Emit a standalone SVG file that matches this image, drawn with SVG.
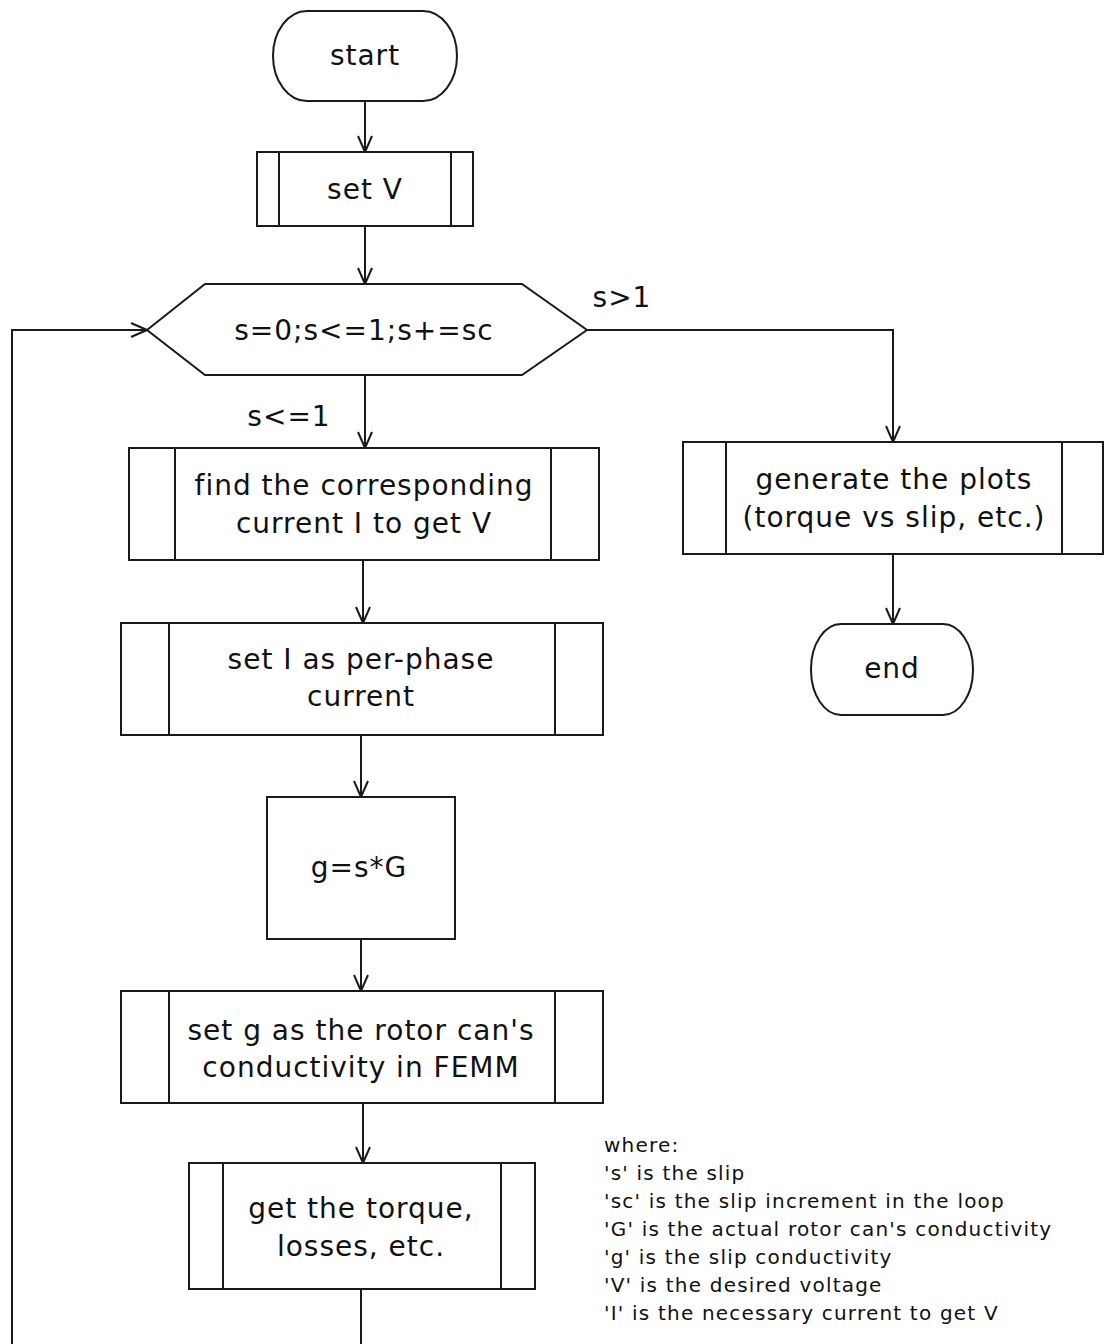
<svg xmlns="http://www.w3.org/2000/svg" width="1104" height="1344" viewBox="0 0 1104 1344">
<style>
.s{fill:#fff;stroke:#1a1a1a;stroke-width:2}
.l{fill:none;stroke:#1a1a1a;stroke-width:2}
.t{font-family:"DejaVu Sans",sans-serif;font-size:28px;letter-spacing:1px;fill:#111;text-anchor:middle}
.n{font-family:"DejaVu Sans",sans-serif;font-size:20px;letter-spacing:1.2px;fill:#111}
</style>
<defs>
<marker id="a" viewBox="0 0 18 16" refX="17" refY="8" markerWidth="18" markerHeight="16" markerUnits="userSpaceOnUse" orient="auto">
<path d="M1,1 L17,8 L1,15" fill="none" stroke="#1a1a1a" stroke-width="2"/>
</marker>
</defs>
<rect width="1104" height="1344" fill="#fff"/>
<g id="connectors">
<path class="l" d="M365,101 V152" marker-end="url(#a)"/>
<path class="l" d="M365,226 V284" marker-end="url(#a)"/>
<path class="l" d="M365,375 V448" marker-end="url(#a)"/>
<path class="l" d="M587,330 H893 V442" marker-end="url(#a)"/>
<path class="l" d="M363,560 V623" marker-end="url(#a)"/>
<path class="l" d="M361,735 V797" marker-end="url(#a)"/>
<path class="l" d="M361,939 V991" marker-end="url(#a)"/>
<path class="l" d="M363,1103 V1163" marker-end="url(#a)"/>
<path class="l" d="M893,554 V624" marker-end="url(#a)"/>
<path class="l" d="M361,1289 V1344"/>
<path class="l" d="M12,1344 V330 H147" marker-end="url(#a)"/>
<text class="t" x="622" y="307">s&gt;1</text>
<text class="t" x="289" y="426">s&lt;=1</text>
</g>
<g id="start">
<rect class="s" x="273" y="11" width="184" height="90" rx="34" ry="45"/>
<text class="t" x="365" y="65">start</text>
</g>
<g id="setV">
<rect class="s" x="257" y="152" width="216" height="74"/>
<path class="l" d="M279,152 V226 M451,152 V226"/>
<text class="t" x="365" y="199">set V</text>
</g>
<g id="loop">
<polygon class="s" points="147,330 205,284 522,284 587,330 522,375 205,375"/>
<text class="t" x="364" y="340">s=0;s&lt;=1;s+=sc</text>
</g>
<g id="find">
<rect class="s" x="129" y="448" width="470" height="112"/>
<path class="l" d="M175,448 V560 M551,448 V560"/>
<text class="t" x="364" y="495">find the corresponding</text>
<text class="t" x="364" y="533">current I to get V</text>
</g>
<g id="setI">
<rect class="s" x="121" y="623" width="482" height="112"/>
<path class="l" d="M169,623 V735 M555,623 V735"/>
<text class="t" x="361" y="669">set I as per-phase</text>
<text class="t" x="361" y="706">current</text>
</g>
<g id="gsG">
<rect class="s" x="267" y="797" width="188" height="142"/>
<text class="t" x="359" y="877">g=s*G</text>
</g>
<g id="setg">
<rect class="s" x="121" y="991" width="482" height="112"/>
<path class="l" d="M169,991 V1103 M555,991 V1103"/>
<text class="t" x="361" y="1040">set g as the rotor can's</text>
<text class="t" x="361" y="1077">conductivity in FEMM</text>
</g>
<g id="get">
<rect class="s" x="189" y="1163" width="346" height="126"/>
<path class="l" d="M223,1163 V1289 M501,1163 V1289"/>
<text class="t" x="361" y="1218">get the torque,</text>
<text class="t" x="361" y="1256">losses, etc.</text>
</g>
<g id="generate">
<rect class="s" x="683" y="442" width="420" height="112"/>
<path class="l" d="M726,442 V554 M1062,442 V554"/>
<text class="t" x="894" y="489">generate the plots</text>
<text class="t" x="894" y="527">(torque vs slip, etc.)</text>
</g>
<g id="end">
<rect class="s" x="811" y="624" width="162" height="91" rx="30" ry="45"/>
<text class="t" x="892" y="678">end</text>
</g>
<g id="note">
<text class="n" x="604" y="1152">where:</text>
<text class="n" x="604" y="1180">'s' is the slip</text>
<text class="n" x="604" y="1208">'sc' is the slip increment in the loop</text>
<text class="n" x="604" y="1236">'G' is the actual rotor can's conductivity</text>
<text class="n" x="604" y="1264">'g' is the slip conductivity</text>
<text class="n" x="604" y="1292">'V' is the desired voltage</text>
<text class="n" x="604" y="1320">'I' is the necessary current to get V</text>
</g>
</svg>
